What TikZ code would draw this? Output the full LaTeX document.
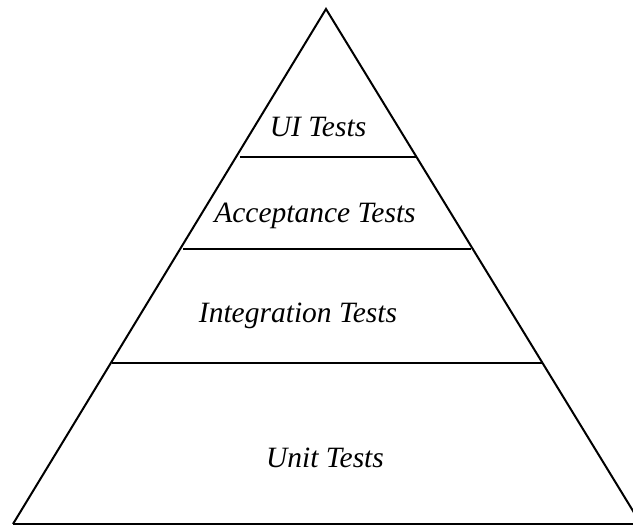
\documentclass[tikz,border=0pt]{standalone}
\usepackage{fontspec}
\setmainfont{Liberation Serif}
\begin{document}
\begin{tikzpicture}[x=1pt,y=-1pt,
  edge/.style={line width=2pt,line join=miter},
  layer/.style={line width=2pt},
  lbl/.style={font=\fontsize{29.5}{33}\selectfont\itshape,anchor=base,inner sep=0pt}]
\useasboundingbox (0,0) rectangle (633,526);
\coordinate (apex) at (326,9);
\coordinate (bl) at (13,524);
\coordinate (br) at (641,524);
\draw[edge] (bl) -- (apex) -- (br);
\draw[edge] (bl) -- (br);
\coordinate (ui-l) at (240,157.5);
\coordinate (ui-r) at (416,157.5);
\coordinate (ac-l) at (183,249);
\coordinate (ac-r) at (471,249);
\coordinate (in-l) at (112,363);
\coordinate (in-r) at (543,363);
\draw[layer] (ui-l) -- (ui-r);
\draw[layer] (ac-l) -- (ac-r);
\draw[layer] (in-l) -- (in-r);
\node[lbl] (ui) at (318,137) {UI Tests};
\node[lbl] (ac) at (315,223) {Acceptance Tests};
\node[lbl] (it) at (298,323) {Integration Tests};
\node[lbl] (un) at (325,468) {Unit Tests};
\end{tikzpicture}
\end{document}
